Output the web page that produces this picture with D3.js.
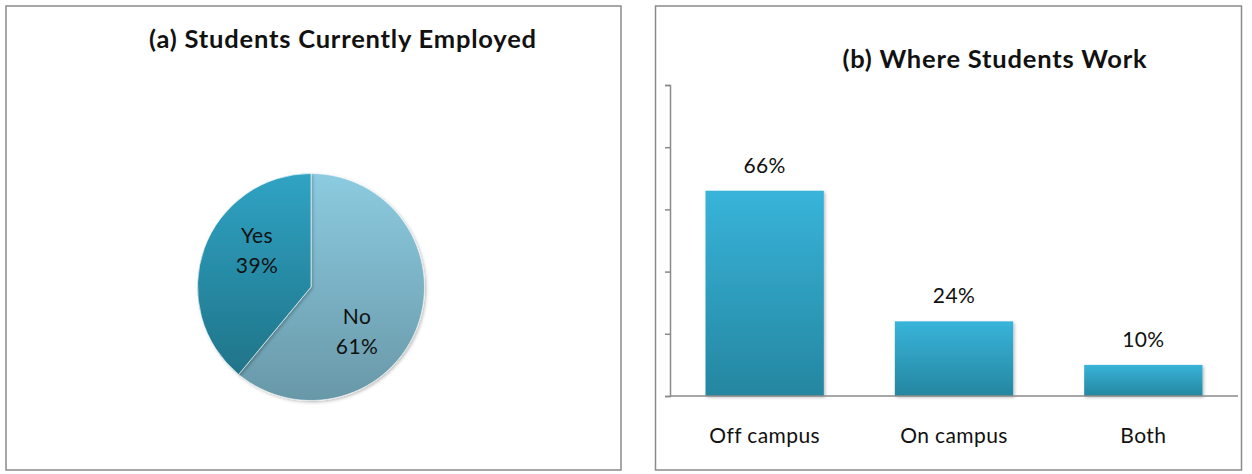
<!DOCTYPE html>
<html>
<head>
<meta charset="utf-8">
<script src="https://cdn.jsdelivr.net/npm/d3@7/dist/d3.min.js"></script>
<style>
  html, body { margin: 0; padding: 0; background: #fff; }
  svg { display: block; }
  text { font-family: Lato, "Open Sans", sans-serif; fill: #111; }
</style>
</head>
<body>
<svg id="chart" width="1252" height="474"></svg>
<script>
// Panel (a): employment status
const pieCategories = ["No", "Yes"];
const pieValues = [61, 39];
const pieTitle = "(a) Students Currently Employed";

// Panel (b): work location
const barCategories = ["Off campus", "On campus", "Both"];
const barValues = [66, 24, 10];
const barTitle = "(b) Where Students Work";
const yTicks = [0, 20, 40, 60, 80, 100];

const labelSize = 21, labelSpacing = 0.4;
const titleSize = 25.5, titleSpacing = 0.8;

const svg = d3.select("#chart");
const defs = svg.append("defs");

// vertical gradients
function vGrad(id, c0, c1) {
  const g = defs.append("linearGradient").attr("id", id)
    .attr("x1", 0).attr("y1", 0).attr("x2", 0).attr("y2", 1);
  g.append("stop").attr("offset", "0%").attr("stop-color", c0);
  g.append("stop").attr("offset", "100%").attr("stop-color", c1);
}
vGrad("gNo", "#8ccbe0", "#6898a8");
vGrad("gYes", "#30a3c4", "#1f7488");
vGrad("gBar", "#38b4da", "#2586a0");

const shadow = defs.append("filter").attr("id", "shadow")
  .attr("x", "-10%").attr("y", "-10%").attr("width", "130%").attr("height", "130%");
shadow.append("feDropShadow").attr("dx", 1.5).attr("dy", 1.5)
  .attr("stdDeviation", 1.5).attr("flood-color", "#000").attr("flood-opacity", 0.25);

// panel frames
const frames = [[6, 6, 615, 464], [655.5, 6, 586, 464]];
svg.selectAll("rect.frame").data(frames).join("rect")
  .attr("class", "frame")
  .attr("x", d => d[0]).attr("y", d => d[1])
  .attr("width", d => d[2]).attr("height", d => d[3])
  .attr("fill", "#fff").attr("stroke", "#8a8a8a").attr("stroke-width", 1.5);

// ---------- Pie ----------
const cx = 311, cy = 287, r = 113.5;
svg.append("text").attr("x", 343).attr("y", 48)
  .attr("text-anchor", "middle").attr("font-weight", "bold")
  .attr("font-size", titleSize).attr("letter-spacing", titleSpacing)
  .text(pieTitle);

const pie = d3.pie().sort(null).value(d => d.v);
const arc = d3.arc().innerRadius(0).outerRadius(r);
const pieData = pie(pieCategories.map((c, i) => ({ c, v: pieValues[i] })));

const pg = svg.append("g").attr("transform", `translate(${cx},${cy})`);
pg.selectAll("path").data(pieData).join("path")
  .attr("d", arc)
  .attr("fill", d => d.data.c === "No" ? "url(#gNo)" : "url(#gYes)")
  .attr("stroke", "#fff").attr("stroke-width", 0.6)
  .attr("filter", "url(#shadow)");

// slice labels
const labelPos = { Yes: [-54, -44], No: [46, 37] };
pieData.forEach(d => {
  const p = labelPos[d.data.c];
  const t = pg.append("text").attr("text-anchor", "middle")
    .attr("font-size", labelSize).attr("letter-spacing", labelSpacing);
  t.append("tspan").attr("x", p[0]).attr("y", p[1]).text(d.data.c);
  t.append("tspan").attr("x", p[0]).attr("y", p[1] + 30).text(d.data.v + "%");
});

// ---------- Bars ----------
const plotL = 670, plotR = 1238, plotT = 85, plotB = 396;
svg.append("text").attr("x", 995).attr("y", 68)
  .attr("text-anchor", "middle").attr("font-weight", "bold")
  .attr("font-size", titleSize).attr("letter-spacing", titleSpacing)
  .text(barTitle);

const x = d3.scaleBand().domain(barCategories).range([plotL, plotR])
  .paddingInner(0.375).paddingOuter(0.1875);
const y = d3.scaleLinear().domain([0, 100]).range([plotB, plotT]);

const yAxis = svg.append("g").attr("transform", `translate(${plotL},0)`)
  .call(d3.axisLeft(y).tickValues(yTicks).tickSize(5).tickFormat(""));
yAxis.select(".domain").attr("stroke", "#8a8a8a").attr("stroke-width", 1.5);
yAxis.selectAll(".tick line").attr("stroke", "#8a8a8a").attr("stroke-width", 1.5);

svg.selectAll("rect.bar").data(barValues).join("rect")
  .attr("class", "bar")
  .attr("x", (d, i) => x(barCategories[i]))
  .attr("y", d => y(d))
  .attr("width", x.bandwidth())
  .attr("height", d => plotB - y(d))
  .attr("fill", "url(#gBar)")
  .attr("filter", "url(#shadow)");

svg.selectAll("text.val").data(barValues).join("text")
  .attr("class", "val")
  .attr("x", (d, i) => x(barCategories[i]) + x.bandwidth() / 2)
  .attr("y", d => y(d) - 18)
  .attr("text-anchor", "middle")
  .attr("font-size", labelSize).attr("letter-spacing", labelSpacing)
  .text(d => d + "%");

const xAxis = svg.append("g").attr("transform", `translate(0,${plotB})`)
  .call(d3.axisBottom(x).tickSize(0).tickPadding(32));
xAxis.select(".domain").attr("stroke", "#8a8a8a").attr("stroke-width", 1.5)
  .attr("d", `M${plotL},0H${plotR}`);
xAxis.selectAll(".tick text")
  .attr("font-size", labelSize).attr("letter-spacing", labelSpacing)
  .attr("font-family", "Lato, 'Open Sans', sans-serif")
  .attr("fill", "#111");
</script>
</body>
</html>
